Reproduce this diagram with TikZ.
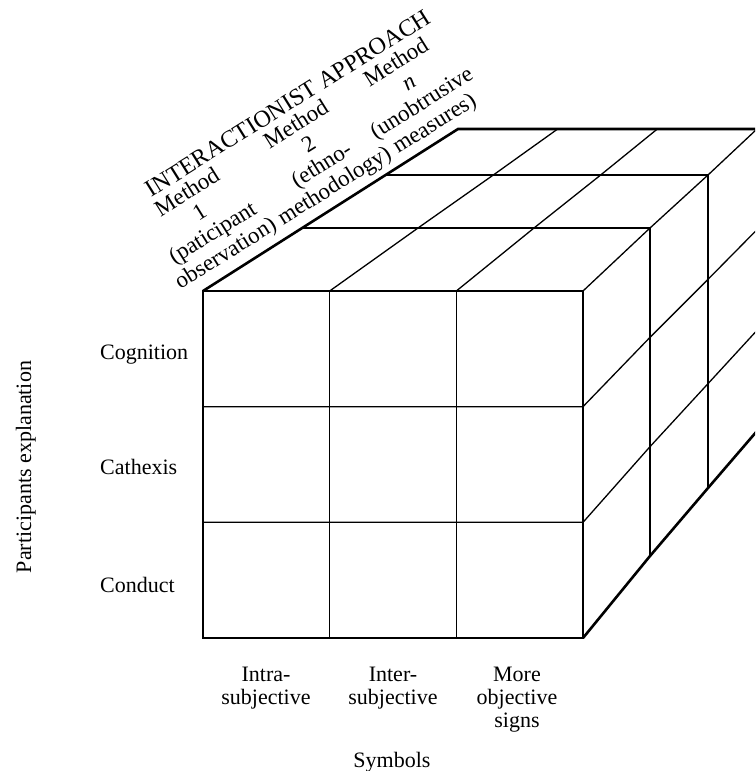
\documentclass[tikz,border=0pt]{standalone}
\usepackage{fontspec}
\setmainfont{Liberation Serif}
\usetikzlibrary{calc}
\begin{document}
\begin{tikzpicture}[x=1pt,y=-1pt,
  thinl/.style={line width=1.3pt},
  thickl/.style={line width=2.6pt, line join=miter},
  lbl/.style={font=\fontsize{22}{23}\selectfont, inner sep=0pt, align=center},
  toplbl/.style={font=\fontsize{23}{24}\selectfont, inner sep=0pt, align=center, rotate=32}]
\useasboundingbox (0,0) rectangle (755,771);
\begin{scope}
\clip (0,0) rectangle (755,771);
% layer corners
\coordinate (TL0) at (203,291); \coordinate (TR0) at (583,291);
\coordinate (BR0) at (583,638); \coordinate (BL0) at (203,638);
\coordinate (TL1) at (302,228); \coordinate (TR1) at (650,228); \coordinate (BR1) at (650,556);
\coordinate (TL2) at (386,175); \coordinate (TR2) at (708,175); \coordinate (BR2) at (708,488);
\coordinate (TL3) at (458,129); \coordinate (TR3) at (757,129); \coordinate (BR3) at (757,431);
% front grid
\foreach \i in {1,2} {
  \draw[thinl] ($(TL0)!\i/3!(TR0)$) -- ($(BL0)!\i/3!(BR0)$);
  \draw[thinl] ($(TL0)!\i/3!(BL0)$) -- ($(TR0)!\i/3!(BR0)$) -- ($(TR1)!\i/3!(BR1)$)
     -- ($(TR2)!\i/3!(BR2)$) -- ($(TR3)!\i/3!(BR3)$);
  \draw[thinl] ($(TL0)!\i/3!(TR0)$) -- ($(TL1)!\i/3!(TR1)$) -- ($(TL2)!\i/3!(TR2)$)
     -- ($(TL3)!\i/3!(TR3)$);
}
% top and right face layer lines
\draw[thinl] (TL1) -- (TR1) -- (BR1);
\draw[thinl] (TL2) -- (TR2) -- (BR2);
\draw[thinl] (TR0) -- (TR1) -- (TR2) -- (TR3);
% silhouette
\draw[thickl] (TL0) -- (TR0) -- (BR0) -- (BL0) -- cycle;
\draw[thickl] (TL0) -- (TL3) -- (TR3) -- (BR3) -- (BR2) -- (BR1) -- (BR0);
\end{scope}
% side labels
\node[lbl, anchor=base west] (cog) at (100,359) {Cognition};
\node[lbl, anchor=base west] (cath) at (100,474) {Cathexis};
\node[lbl, anchor=base west] (cond) at (100,592) {Conduct};
\node[lbl, rotate=90, anchor=base] (part) at (31,467) {Participants explanation};
% bottom labels
\node[lbl, anchor=north] (intra) at (266,667) {Intra-\\subjective};
\node[lbl, anchor=north] (inter) at (393,667) {Inter-\\subjective};
\node[lbl, anchor=north] (more) at (517,667) {More\\objective\\signs};
\node[lbl, anchor=base] (sym) at (392,767) {Symbols};
% top labels
\node[toplbl, font=\fontsize{24}{24}\selectfont] (appr) at (288,103) {INTERACTIONIST APPROACH};
\node[toplbl] (m1) at (207,224) {Method\\1\\(paticipant\\observation)};
\node[toplbl] (m2) at (316,156) {Method\\2\\(ethno-\\methodology)};
\node[toplbl] (m3) at (416,94) {Method\\\textit{n}\\(unobtrusive\\measures)};
\end{tikzpicture}
\end{document}
